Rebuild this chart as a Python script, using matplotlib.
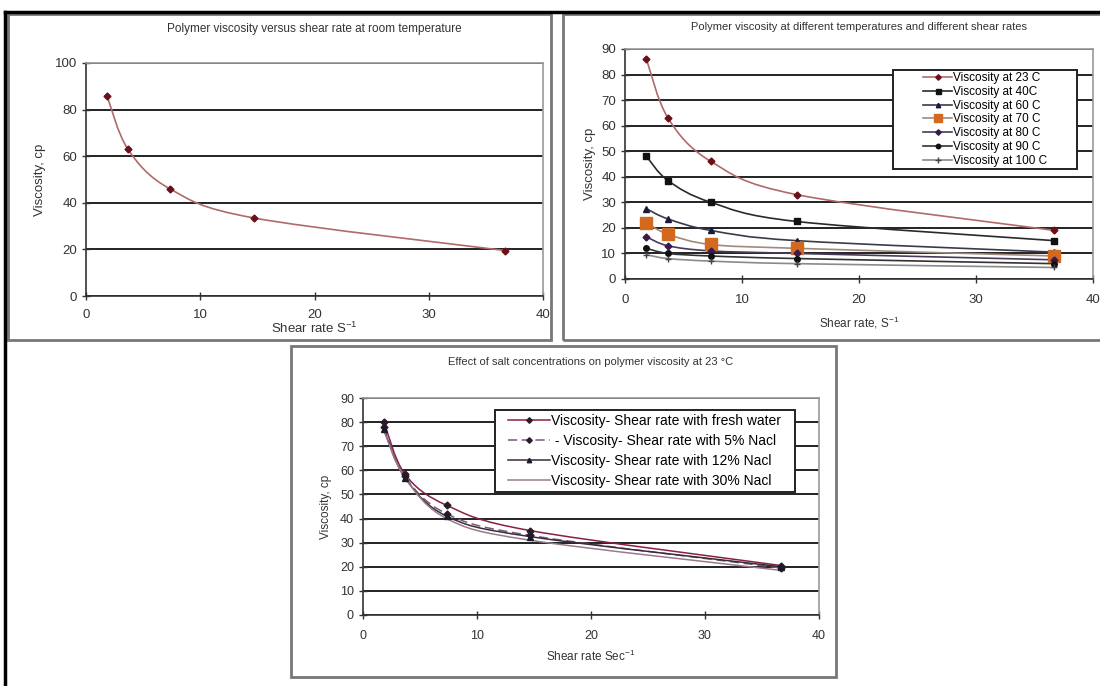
import numpy as np
import matplotlib
matplotlib.use("Agg")
import matplotlib.pyplot as plt
from matplotlib.path import Path
from matplotlib.patches import PathPatch, Rectangle
from matplotlib.lines import Line2D

plt.rcParams['font.family'] = ['Liberation Sans', 'DejaVu Sans']

# shear rates (s^-1) used in every test
shear = [1.83, 3.67, 7.34, 14.68, 36.7]

# top-left: room temperature
room_visc = [86, 63, 46, 33.5, 19.5]

# top-right: temperatures
temp_labels = ["Viscosity at 23 C", "Viscosity at 40C", "Viscosity at 60 C",
               "Viscosity at 70 C", "Viscosity at 80 C", "Viscosity at 90 C",
               "Viscosity at 100 C"]
visc_23 = [86, 63, 46, 33, 19]
visc_40 = [48, 38.5, 30, 22.5, 15]
visc_60 = [27.5, 23.5, 19, 15, 10.5]
visc_70 = [22, 17.5, 13.5, 12, 9]
visc_80 = [16.5, 13, 11, 10, 7.5]
visc_90 = [12, 10, 9, 8, 6]
visc_100 = [9.5, 8, 7, 6, 4.5]

# bottom: salt concentrations at 23 C
salt_labels = ["Viscosity- Shear rate with fresh water",
               " - Viscosity- Shear rate with 5% Nacl",
               "Viscosity- Shear rate with 12% Nacl",
               "Viscosity- Shear rate with 30% Nacl"]
fresh = [80, 58.5, 45.5, 35, 20.5]
nacl_5 = [78, 57.5, 42, 33, 19.5]
nacl_12 = [77, 57, 41, 32.5, 20]
nacl_30 = [76.5, 57, 40, 31, 18.5]


def smooth_path(x, y):
    # excel-like smoothed line: cubic bezier through each point
    pts = np.column_stack([x, y]).astype(float)
    n = len(pts)
    verts = [pts[0]]
    codes = [Path.MOVETO]
    for i in range(n - 1):
        p0 = pts[max(i - 1, 0)]
        p1 = pts[i]
        p2 = pts[i + 1]
        p3 = pts[min(i + 2, n - 1)]
        verts += [p1 + (p2 - p0) / 6, p2 - (p3 - p1) / 6, p2]
        codes += [Path.CURVE4] * 3
    return Path(verts, codes)


def draw_series(ax, x, y, color, mcolor, marker, ms, lw=1.2, ls='-'):
    patch = PathPatch(smooth_path(x, y), facecolor='none', edgecolor=color,
                      lw=lw, linestyle=ls, transform=ax.transData, zorder=3)
    ax.add_patch(patch)
    if marker:
        ax.plot(x, y, linestyle='none', marker=marker, ms=ms, color=mcolor,
                mec=mcolor, zorder=4)
    # legend handle
    return Line2D([], [], color=color, lw=lw, linestyle=ls, marker=marker,
                  ms=ms * 0.8, mfc=mcolor, mec=mcolor)


def style_axes(ax, ymax, ystep, fs):
    ax.set_xlim(0, 40)
    ax.set_ylim(0, ymax)
    ax.set_xticks(range(0, 41, 10))
    ax.set_yticks(range(0, ymax + 1, ystep))
    ax.yaxis.grid(True, color='#111111', lw=1.3)
    ax.set_axisbelow(True)
    for s in ['top', 'right']:
        ax.spines[s].set_color('#999999')
        ax.spines[s].set_linewidth(1.2)
    for s in ['left', 'bottom']:
        ax.spines[s].set_color('#333333')
        ax.spines[s].set_linewidth(1.2)
    ax.tick_params(direction='inout', length=6, width=1, labelsize=fs,
                   colors='#333333')
    ax.tick_params(axis='x', pad=8)


def boxed_legend(ax, handles, labels, box, **kw):
    # excel legends have a wide frame, so draw the frame separately
    x0, y0, x1, y1 = box
    ax.add_patch(Rectangle((x0, y0), x1 - x0, y1 - y0, transform=ax.transAxes,
                           facecolor='white', edgecolor='#222222', lw=1.4,
                           zorder=5))
    leg = ax.legend(handles, labels, loc='center',
                    bbox_to_anchor=((x0 + x1) / 2, (y0 + y1) / 2),
                    frameon=False, borderaxespad=0, borderpad=0, **kw)
    leg.set_zorder(6)
    return leg


fig = plt.figure(figsize=(11, 6.86), dpi=100)

# panel frames and outer border
for (x0, y0, x1, y1) in [(8, 14, 551, 340), (563, 14, 1110, 340), (291, 346, 836, 677)]:
    fig.patches.append(Rectangle((x0 / 1100, 1 - y1 / 686), (x1 - x0) / 1100,
                                 (y1 - y0) / 686, transform=fig.transFigure,
                                 fill=False, edgecolor='#777777', lw=2))
fig.add_artist(Line2D([5 / 1100, 5 / 1100], [0, 1 - 12 / 686], color='black', lw=2.5,
                      transform=fig.transFigure))
fig.add_artist(Line2D([5 / 1100, 1], [1 - 12 / 686, 1 - 12 / 686], color='black', lw=2.5,
                      transform=fig.transFigure))

# top-left
ax1 = fig.add_axes([0.0782, 0.5685, 0.4155, 0.3397])
style_axes(ax1, 100, 20, 9.5)
ax1.tick_params(axis='x', pad=6)
draw_series(ax1, shear, room_visc, '#b06a6a', '#6b0f1a', 'D', 3.5)
ax1.set_ylabel("Viscosity, cp", fontsize=9.5, color='#333333', labelpad=6)
ax1.set_xlabel("Shear rate S$^{\\mathregular{-1}}$", fontsize=9.5, color='#333333',
               labelpad=0)
ax1.set_title("Polymer viscosity versus shear rate at room temperature",
              fontsize=8.5, color='#333333', pad=22)

# top-right
ax2 = fig.add_axes([0.5682, 0.5933, 0.4255, 0.3353])
style_axes(ax2, 90, 10, 9.5)
temp_series = [visc_23, visc_40, visc_60, visc_70, visc_80, visc_90, visc_100]
temp_styles = [('#b06a6a', '#6b0f1a', 'D', 3.5),
               ('#2a2a2a', '#111111', 's', 4.5),
               ('#3a3a4a', '#1a1a3a', '^', 4),
               ('#a08a7a', '#d2691e', 's', 8),
               ('#4a3a5a', '#3a1a4a', 'D', 3.5),
               ('#333333', '#111111', 'o', 4),
               ('#8a8a8a', '#444444', '+', 5)]
handles2 = []
for vals, (c, mc, m, ms) in zip(temp_series, temp_styles):
    handles2.append(draw_series(ax2, shear, vals, c, mc, m, ms))
boxed_legend(ax2, handles2, temp_labels, (0.573, 0.478, 0.966, 0.909),
             fontsize=8.5, labelspacing=0.15, handlelength=2.4, handletextpad=0.1)
ax2.set_ylabel("Viscosity, cp", fontsize=9.5, color='#333333', labelpad=4)
ax2.set_xlabel("Shear rate, S$^{\\mathregular{-1}}$", fontsize=8.5, color='#333333',
               labelpad=6)
ax2.set_title("Polymer viscosity at different temperatures and different shear rates",
              fontsize=8, color='#333333', pad=14)

# bottom
ax3 = fig.add_axes([0.33, 0.1035, 0.4145, 0.3163])
style_axes(ax3, 90, 10, 9)
salt_series = [fresh, nacl_5, nacl_12, nacl_30]
salt_styles = [('#8a2040', '#2a1a2a', 'D', 3.5, '-'),
               ('#7a5a7a', '#2a1a2a', 'D', 3.5, (0, (6, 3))),
               ('#3a2a3a', '#1a1a2a', '^', 4, '-'),
               ('#9a7a8a', '#444444', None, 0, '-')]
handles3 = []
for vals, (c, mc, m, ms, ls) in zip(salt_series, salt_styles):
    handles3.append(draw_series(ax3, shear, vals, c, mc, m, ms, lw=1.1, ls=ls))
boxed_legend(ax3, handles3, salt_labels, (0.289, 0.567, 0.947, 0.945),
             fontsize=10, labelspacing=0.45, handlelength=3.0, handletextpad=0.1)
ax3.set_ylabel("Viscosity, cp", fontsize=8.5, color='#333333', labelpad=6)
ax3.set_xlabel("Shear rate Sec$^{\\mathregular{-1}}$", fontsize=8.5, color='#333333',
               labelpad=5)
ax3.set_title("Effect of salt concentrations on polymer viscosity at 23 \u00b0C",
              fontsize=8, color='#333333', pad=24)

fig.savefig("out.png", dpi=100)
